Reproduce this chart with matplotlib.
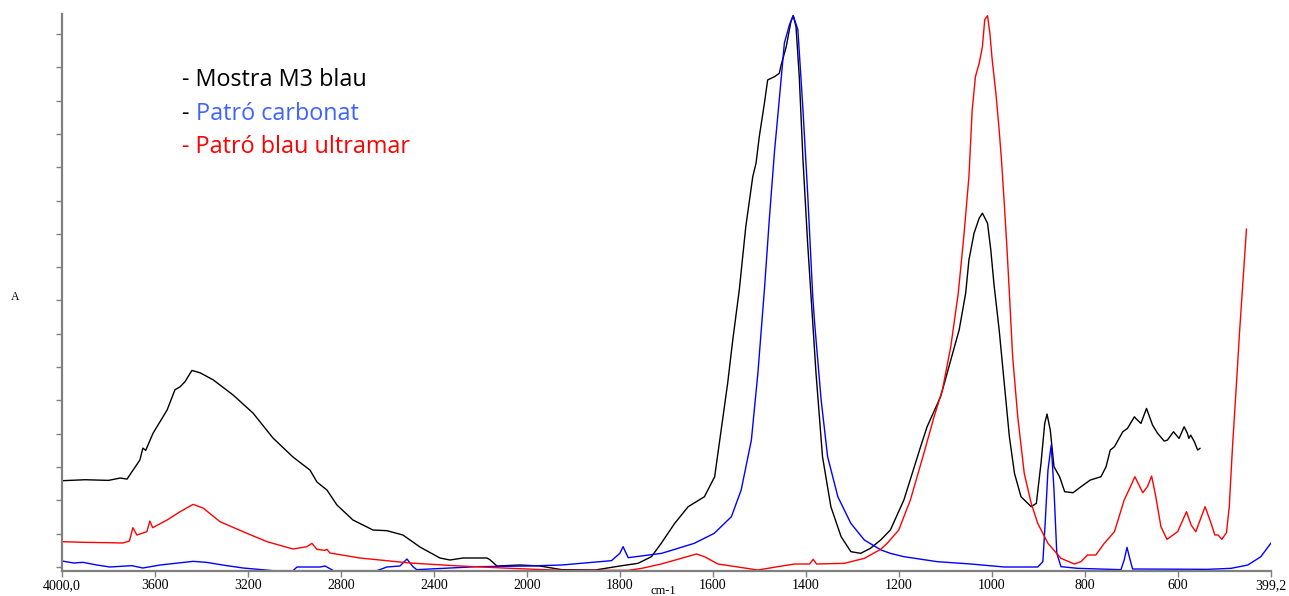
import numpy as np
import matplotlib
matplotlib.use('Agg')
import matplotlib.pyplot as plt

# Espectres FTIR (nombre d'ona en cm-1, absorbància)
mostra_cm = [4000, 3900, 3800, 3750, 3720, 3700, 3665, 3652, 3640, 3608, 3548, 3514, 3492, 3471,
             3441, 3406, 3350, 3265, 3178, 3092, 3006, 2933, 2903, 2860, 2817, 2748, 2662, 2602,
             2533, 2460, 2374, 2331, 2275, 2172, 2159, 2129, 2030, 1972, 1925, 1853, 1800, 1761,
             1732, 1711, 1682, 1653, 1618, 1596, 1582, 1568, 1557, 1543, 1529, 1514, 1507, 1500,
             1489, 1482, 1467, 1457, 1453, 1442, 1432, 1427, 1421, 1414, 1406, 1396, 1389, 1378,
             1364, 1346, 1324, 1303, 1282, 1261, 1239, 1218, 1189, 1153, 1139, 1110, 1088, 1070,
             1056, 1049, 1038, 1027, 1020, 1009, 1002, 995, 984, 973, 962, 951, 937, 915, 904,
             894, 886, 881, 874, 866, 854, 843, 825, 808, 788, 765, 754, 745, 736, 718, 708, 693,
             690, 679, 667, 654, 643, 629, 622, 609, 597, 586, 579, 576, 572, 564, 557, 552]
mostra_abs = [0.259, 0.262, 0.260, 0.267, 0.264, 0.285, 0.321, 0.357, 0.350, 0.402, 0.471, 0.532,
              0.541, 0.556, 0.590, 0.583, 0.562, 0.517, 0.462, 0.387, 0.330, 0.291, 0.255, 0.231,
              0.186, 0.141, 0.111, 0.109, 0.096, 0.060, 0.027, 0.021, 0.027, 0.027, 0.022, 0.003,
              0.006, 0.003, -0.008, -0.009, 0.003, 0.011, 0.031, 0.071, 0.131, 0.181, 0.211, 0.271,
              0.411, 0.552, 0.682, 0.832, 1.022, 1.172, 1.212, 1.292, 1.392, 1.462, 1.472, 1.482,
              1.507, 1.562, 1.637, 1.655, 1.622, 1.472, 1.222, 0.972, 0.822, 0.582, 0.331, 0.181,
              0.091, 0.046, 0.041, 0.056, 0.081, 0.111, 0.201, 0.361, 0.421, 0.511, 0.622, 0.712,
              0.822, 0.922, 1.002, 1.047, 1.062, 1.032, 0.952, 0.847, 0.712, 0.552, 0.391, 0.281,
              0.211, 0.181, 0.191, 0.311, 0.431, 0.459, 0.411, 0.301, 0.271, 0.226, 0.223, 0.241,
              0.261, 0.271, 0.301, 0.351, 0.361, 0.406, 0.416, 0.451, 0.446, 0.431, 0.476, 0.426,
              0.401, 0.378, 0.381, 0.406, 0.386, 0.421, 0.401, 0.386, 0.396, 0.376, 0.351, 0.356]

carbonat_cm = [4000, 3950, 3910, 3850, 3794, 3700, 3652, 3578, 3500, 3436, 3379, 3300, 3221, 3092,
               3006, 2989, 2889, 2868, 2832, 2645, 2602, 2546, 2516, 2490, 2474, 2215, 2000, 1925,
               1818, 1800, 1793, 1782, 1710, 1640, 1597, 1560, 1539, 1517, 1503, 1489, 1478, 1467,
               1459, 1446, 1435, 1427, 1417, 1406, 1396, 1385, 1381, 1367, 1353, 1331, 1303, 1274,
               1238, 1218, 1189, 1117, 1045, 973, 901, 890, 885, 879, 872, 866, 860, 851, 815, 722,
               715, 709, 704, 697, 535, 485, 449, 421, 399.2]
carbonat_abs = [0.018, 0.012, 0.014, 0.006, 0.000, 0.004, -0.003, 0.006, 0.012, 0.017, 0.014, 0.005,
                -0.003, -0.011, -0.011, 0.000, 0.000, 0.003, -0.011, -0.011, 0.000, 0.003, 0.024,
                0.001, -0.008, 0.001, 0.003, 0.006, 0.019, 0.041, 0.061, 0.028, 0.041, 0.071, 0.101,
                0.151, 0.231, 0.381, 0.582, 0.832, 1.052, 1.252, 1.372, 1.573, 1.628, 1.655, 1.613,
                1.372, 1.123, 0.812, 0.733, 0.502, 0.331, 0.211, 0.131, 0.081, 0.051, 0.041, 0.031,
                0.016, 0.009, 0.000, 0.000, 0.016, 0.131, 0.291, 0.366, 0.231, 0.041, 0.001, -0.004,
                -0.008, 0.021, 0.059, 0.031, -0.006, -0.007, -0.004, 0.006, 0.031, 0.072]

ultramar_cm = [4000, 3900, 3800, 3738, 3710, 3695, 3678, 3635, 3622, 3610, 3548, 3492, 3436, 3393,
               3320, 3221, 3118, 3006, 2946, 2925, 2903, 2870, 2860, 2847, 2718, 2503, 2288, 2100,
               2000, 1925, 1782, 1753, 1711, 1668, 1635, 1618, 1589, 1546, 1503, 1460, 1424, 1392,
               1384, 1377, 1317, 1274, 1261, 1239, 1225, 1200, 1175, 1146, 1124, 1106, 1088, 1072,
               1060, 1049, 1042, 1035, 1027, 1020, 1015, 1009, 1004, 999, 991, 984, 979, 973, 967,
               962, 955, 944, 930, 915, 901, 879, 851, 822, 808, 794, 776, 758, 736, 715, 700, 692,
               675, 665, 656, 647, 636, 623, 610, 600, 581, 571, 561, 541, 528, 520, 513, 505, 495,
               489, 482, 473, 467, 452]
ultramar_abs = [0.076, 0.074, 0.073, 0.072, 0.078, 0.118, 0.096, 0.106, 0.138, 0.118, 0.141, 0.166,
                0.188, 0.177, 0.136, 0.106, 0.076, 0.054, 0.061, 0.071, 0.053, 0.050, 0.053, 0.042,
                0.027, 0.012, 0.003, -0.003, -0.006, -0.010, -0.010, -0.004, 0.009, 0.026, 0.039,
                0.031, 0.009, 0.000, -0.009, 0.001, 0.009, 0.009, 0.023, 0.009, 0.011, 0.026, 0.036,
                0.053, 0.071, 0.111, 0.201, 0.341, 0.451, 0.532, 0.662, 0.822, 0.992, 1.172, 1.372,
                1.472, 1.512, 1.562, 1.643, 1.655, 1.603, 1.523, 1.422, 1.312, 1.222, 1.092, 0.952,
                0.822, 0.632, 0.451, 0.281, 0.191, 0.131, 0.071, 0.026, 0.009, 0.016, 0.036, 0.036,
                0.071, 0.106, 0.201, 0.246, 0.271, 0.223, 0.241, 0.273, 0.211, 0.121, 0.083, 0.096,
                0.106, 0.166, 0.126, 0.106, 0.181, 0.131, 0.096, 0.096, 0.083, 0.103, 0.181, 0.361,
                0.562, 0.702, 1.014]

xticks = [4000, 3600, 3200, 2800, 2400, 2000, 1800, 1600, 1400, 1200, 1000, 800, 600, 399.2]
xtick_labels = ['4000,0', '3600', '3200', '2800', '2400', '2000', '1800', '1600', '1400',
                '1200', '1000', '800', '600', '399,2']


# escala trencada: per sobre de 2000 cm-1 l'eix va comprimit a la meitat
def comprimir(x):
    x = np.asarray(x, dtype=float)
    return np.where(x > 2000, 2000 + (x - 2000) / 2.0, x)


def expandir(u):
    u = np.asarray(u, dtype=float)
    return np.where(u > 2000, 2000 + (u - 2000) * 2.0, u)


fig = plt.figure(figsize=(12.89, 5.96), dpi=100)
ax = fig.add_axes([62 / 1289, 1 - 571 / 596, (1271 - 62) / 1289, (571 - 14) / 596])

ax.plot(mostra_cm, mostra_abs, color='black', lw=1.0, solid_joinstyle='round')
ax.plot(carbonat_cm, carbonat_abs, color='#0000ff', lw=1.0, solid_joinstyle='round')
ax.plot(ultramar_cm, ultramar_abs, color='#ff0000', lw=1.0, solid_joinstyle='round')

ax.set_xscale('function', functions=(comprimir, expandir))
ax.set_xlim(4000, 399.2)
ax.set_ylim(-0.012, 1.66)

ax.set_xticks(xticks)
ax.set_xticklabels(xtick_labels, fontfamily='Liberation Serif', fontsize=10)
ax.set_xticks([], minor=True)
ax.set_yticks(np.arange(0, 1.65, 0.1))
ax.set_yticklabels([])
ax.tick_params(axis='both', direction='out', length=4, width=1.0, color='#808080', pad=2)

for s in ['top', 'right']:
    ax.spines[s].set_visible(False)
for s in ['left', 'bottom']:
    ax.spines[s].set_color('#808080')
    ax.spines[s].set_linewidth(1.6)

fig.text(15 / 1289, 1 - 297 / 596, 'A', fontfamily='Liberation Serif', fontsize=8.5,
         ha='center', va='center')
fig.text(663 / 1289, 1 - 591 / 596, 'cm-1', fontfamily='Liberation Serif', fontsize=9,
         ha='center', va='center')

# llegenda escrita a mà
font_lleg = dict(fontfamily='Open Sans', fontsize=16.8)
fig.text(182 / 1289, 1 - 80 / 596, '- Mostra M3 blau', color='black', va='center', **font_lleg)
guio = fig.text(182 / 1289, 1 - 114 / 596, '- ', color='black', va='center', **font_lleg)
ax.annotate('Patró carbonat', xy=(1, 0), xycoords=guio, va='bottom', color='#3f63ff',
            **font_lleg)
fig.text(182 / 1289, 1 - 147 / 596, '- Patró blau ultramar', color='#ff0000', va='center',
         **font_lleg)

plt.savefig('out.png', dpi=100)
